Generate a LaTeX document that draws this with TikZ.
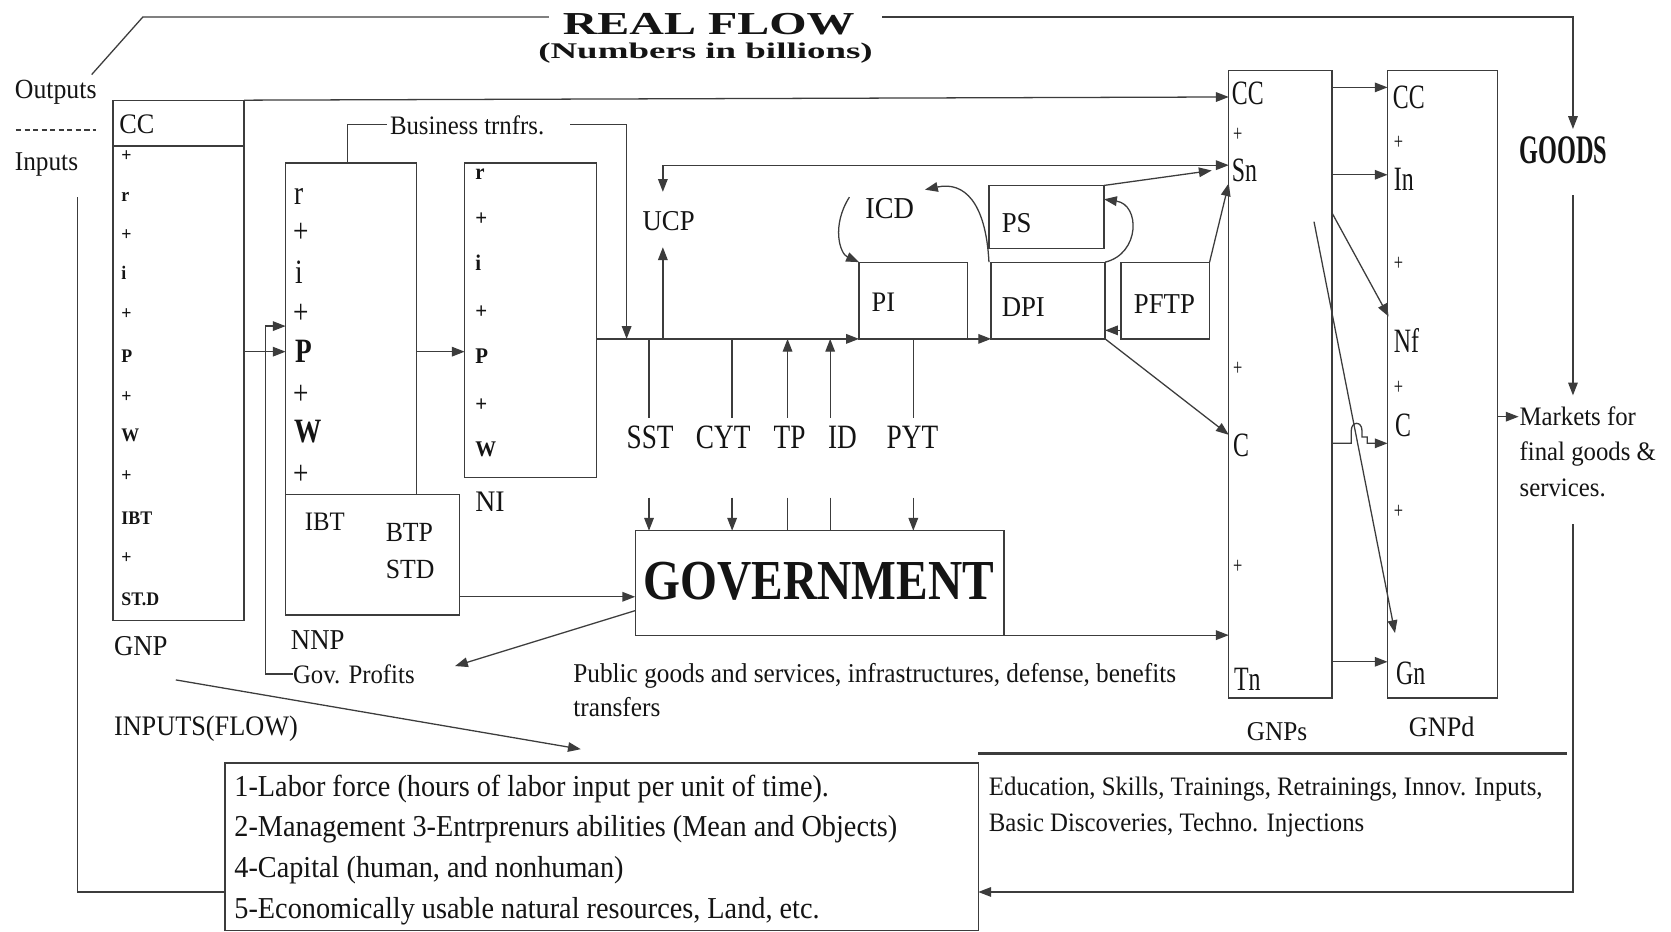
\documentclass[tikz,border=0pt]{standalone}
\usepackage{fontspec}
\usepackage{graphicx}
\setmainfont{Liberation Serif}[FakeStretch=0.93]
\newfontfamily\condfont{Liberation Serif}[FakeStretch=0.7]
\newfontfamily\semifont{Liberation Serif}[FakeStretch=0.8]
\newfontfamily\govfont{Liberation Serif}[FakeStretch=0.84]
\newfontfamily\goodsfont{Liberation Serif}[FakeStretch=0.6]
\newfontfamily\plainfont{Liberation Serif}
\usetikzlibrary{arrows.meta,calc}
\newcommand\myfs[1]{\fontsize{#1}{#1}\selectfont}
\definecolor{lc}{RGB}{60,60,60}
\definecolor{tc}{RGB}{20,20,20}
\begin{document}
\begin{tikzpicture}[x=1pt,y=-1pt,
  ln/.style={draw=lc, line width=1.2pt},
  arr/.style={ln, -{Triangle[length=12pt,width=9pt]}},
  box/.style={draw=lc, line width=1.2pt, anchor=north west, inner sep=0pt, outer sep=0pt},
  tx/.style={inner sep=0pt, outer sep=0pt, anchor=base west, text=tc},
  lab/.style={tx, font=\myfs{26}},
  sml/.style={tx, font=\myfs{18}\bfseries},
  nib/.style={tx, font=\myfs{21}\bfseries},
  big/.style={tx, font=\semifont\myfs{32}},
  cnd/.style={tx, font=\condfont\myfs{32}},
  pls/.style={tx, font=\condfont\myfs{22}},
  tax/.style={tx, font=\semifont\myfs{32}},
]
\useasboundingbox (0,0) rectangle (1568,874);
\fill[white] (0,0) rectangle (1568,874);

% ---------------- title ----------------
\node[inner sep=0pt, anchor=base, text=tc, font=\plainfont\bfseries\myfs{30}] (title) at (665,32) {\scalebox{1.5}[1]{REAL FLOW}};
\node[inner sep=0pt, anchor=base, text=tc, font=\plainfont\bfseries\myfs{21}] (subtitle) at (662,55) {\scalebox{1.65}[1]{(Numbers in billions)}};

% ---------------- boxes ----------------
\node[box, minimum width=123, minimum height=488] (gnp) at (106,94) {};
\node[box, minimum width=123, minimum height=311] (nnp) at (268,153) {};
\node[box, minimum width=163, minimum height=113] (ibt) at (268,464) {};
\node[box, minimum width=124, minimum height=295] (ni) at (436,153) {};
\node[box, minimum width=102, minimum height=72] (pi) at (806,246) {};
\node[box, minimum width=107, minimum height=72] (dpi) at (930,246) {};
\node[box, minimum width=108, minimum height=59] (ps) at (928,174) {};
\node[box, minimum width=83, minimum height=72] (pftp) at (1052,246) {};
\node[box, minimum width=346, minimum height=98] (gov) at (596,498) {};
\node[box, minimum width=97, minimum height=589] (gnps) at (1153,66) {};
\node[box, minimum width=103, minimum height=589] (gnpd) at (1302,66) {};
\node[box, minimum width=707, minimum height=157] (labor) at (211,716) {};
\draw[ln, line width=2.4pt] (labor.north west) -- (labor.north east);
\draw[ln, line width=2pt] (gnp.west |- 0,137) -- (gnp.east |- 0,137);

% ---------------- left texts ----------------
\node[lab] (outputs) at (14,92) {Outputs};
\draw[ln, dash pattern=on 5pt off 3pt] (15,122) -- (90,122);
\node[lab, font=\myfs{25.5}] (inputs) at (14,160) {Inputs};

% GNP box content
\node[lab, font=\myfs{26.5}] (gnpCC) at (112,125) {CC};
\foreach \t/\y [count=\i] in {+/152, r/189, +/226, i/262, +/300, P/340, +/378, W/414, +/452, IBT/492, +/529, ST.D/568}
  \node[sml] (gnpi\i) at (114,\y) {\t};
\node[lab, font=\myfs{27}] (gnplab) at (107,615) {GNP};

% NNP box content
\node[big] (nnpr) at (276,192) {r};
\node[big] (nnpp1) at (275,228) {+};
\node[big] (nnpi) at (277,266) {i};
\node[big] (nnpp2) at (275,304) {+};
\node[big, font=\semifont\bfseries\myfs{32}] (nnpP) at (277,340) {P};
\node[big] (nnpp3) at (275,380) {+};
\node[big, font=\semifont\bfseries\myfs{32}] (nnpW) at (276,415) {W};
\node[big] (nnpp4) at (275,455) {+};
\node[lab, font=\myfs{25}] (ibtt) at (286,498) {IBT};
\node[lab] (btp) at (362,508) {BTP};
\node[lab] (std) at (362,543) {STD};
\node[lab, font=\myfs{27}] (nnplab) at (273,609) {NNP};
\node[lab, font=\myfs{25}] (govprof) at (275,641) {Gov. Profits};

% NI box content
\foreach \t/\y [count=\i] in {r/168, +/212, i/254, +/299, P/341, +/386, W/428}
  \node[nib] (nii\i) at (446,\y) {\t};
\node[lab, font=\myfs{28}] (nilab) at (446,480) {NI};

\node[lab, font=\myfs{25}] (bus) at (366,126) {Business trnfrs.};
\node[lab, font=\myfs{27}] (ucp) at (603,216) {UCP};
\node[lab, font=\myfs{28.5}] (icd) at (812,205) {ICD};
\node[lab, font=\myfs{26.5}] (pit) at (818,292) {PI};
\node[lab, font=\myfs{27}] (dpit) at (940,297) {DPI};
\node[lab, font=\myfs{27}] (pst) at (940,218) {PS};
\node[lab, font=\myfs{27}] (pftpt) at (1064,294) {PFTP};

% tax labels
\node[tax] (sst) at (588,421) {SST};
\node[tax] (cyt) at (653,421) {CYT};
\node[tax] (tp) at (726,421) {TP};
\node[tax] (id) at (777,421) {ID};
\node[tax] (pyt) at (832,421) {PYT};

\node[tx, font=\govfont\bfseries\myfs{53}] (govt) at (604,563) {GOVERNMENT};
\node[lab, font=\myfs{25.5}] (pub1) at (538,640) {Public goods and services, infrastructures, defense, benefits};
\node[lab, font=\myfs{25.5}] (pub2) at (538,672) {transfers};

% GNPs content
\node[cnd] (sCC) at (1156,98) {CC};
\node[pls] (sp1) at (1157,133) {+};
\node[cnd] (sSn) at (1156,170) {Sn};
\node[pls] (sp2) at (1157,352) {+};
\node[cnd] (sC) at (1157,428) {C};
\node[pls] (sp3) at (1157,538) {+};
\node[cnd] (sTn) at (1158,648) {Tn};
\node[lab, font=\myfs{25.5}] (gnpslab) at (1170,695) {GNPs};

% GNPd content
\node[cnd] (dCC) at (1307,102) {CC};
\node[pls] (dp1) at (1308,140) {+};
\node[cnd] (dIn) at (1308,179) {In};
\node[pls] (dp2) at (1308,254) {+};
\node[cnd] (dNf) at (1308,331) {Nf};
\node[pls] (dp3) at (1308,370) {+};
\node[cnd] (dC) at (1309,410) {C};
\node[pls] (dp4) at (1308,487) {+};
\node[cnd] (dGn) at (1310,642) {Gn};
\node[lab, font=\myfs{26.5}] (gnpdlab) at (1322,691) {GNPd};

% right side
\node[tx, font=\goodsfont\bfseries\myfs{38}] (goods) at (1426,153) {GOODS};
\node[lab, font=\myfs{25}] (mk1) at (1426,399) {Markets for};
\node[lab, font=\myfs{25}] (mk2) at (1426,432) {final goods \&};
\node[lab, font=\myfs{25}] (mk3) at (1426,466) {services.};

% bottom texts
\node[lab, font=\myfs{26.5}] (inflow) at (107,690) {INPUTS(FLOW)};
\node[lab, font=\myfs{28.5}] (lb1) at (220,747) {1-Labor force (hours of labor input per unit of time).};
\node[lab, font=\myfs{28.5}] (lb2) at (220,785) {2-Management 3-Entrprenurs abilities (Mean and Objects)};
\node[lab, font=\myfs{28.5}] (lb3) at (220,823) {4-Capital (human, and nonhuman)};
\node[lab, font=\myfs{28.5}] (lb4) at (220,862) {5-Economically usable natural resources, Land, etc.};
\node[lab, font=\myfs{25}] (ed1) at (928,746) {Education, Skills, Trainings, Retrainings, Innov. Inputs,};
\node[lab, font=\myfs{25}] (ed2) at (928,780) {Basic Discoveries, Techno. Injections};

% ---------------- connectors ----------------
% real flow frame
\draw[ln] (86,70) -- (134,16) -- (515,16);
\coordinate (goodsTop) at (1476,121);
\draw[arr] (828,16) -- (1476,16) -- (goodsTop);
\coordinate (gdA) at (1476,183);
\coordinate (mkTop) at (1476,371);
\draw[arr] (gdA) -- (mkTop);
\coordinate (mkB) at (1476,492);
\draw[arr] (mkB) -- (1476,837) -- (labor.east |- 0,837);
\draw[ln] (73,185) -- (73,837) -- (labor.west |- 0,837);
\draw[ln, line width=2pt] (labor.east |- 0,707) -- (1470,707);

% GNP top line to GNPs CC
\draw[arr] (gnp.north east) -- (gnps.west |- 0,91);
% GNP -> NNP
\draw[arr] (gnp.east |- 0,330) -- (nnp.west |- 0,330);
% Gov profits -> NNP
\draw[arr] (govprof.west) -| (249,306) -- (nnp.west |- 0,306);
% NNP -> NI
\draw[arr] (nnp.east |- 0,330) -- (ni.west |- 0,330);
% business transfers
\draw[ln] (nnp.north -| 326,0) -- (326,117) -- (363,117);
\coordinate (btEnd) at (588,318);
\draw[arr] (535,117) -- (588,117) -- (btEnd);
% main flow line
\draw[arr] (ni.east |- 0,318) -- (pi.south west);
% UCP
\draw[arr] (622,318) -- (622,232);
\draw[ln, {Triangle[length=12pt,width=9pt]}-{Triangle[length=12pt,width=9pt]}] (622,180) |- (gnps.west |- 0,155);
% PI -> DPI
\draw[arr] (pi.south east) -- (dpi.south west);
% PFTP -> DPI
\draw[arr] (pftp.west |- 0,310) -- (dpi.east |- 0,310);
% DPI -> C
\draw[arr] (dpi.south east) -- (gnps.west |- 0,408);
% PS -> Sn
\draw[arr] (ps.north east) -- (1137,160);
% PFTP -> Sn
\draw[arr] (pftp.north east) -- (gnps.west |- 0,172);
% DPI -> PS loop
\draw[arr] (dpi.north east) .. controls (1070,238) and (1070,192) .. (1036,187);
% DPI -> ICD
\draw[arr] (928,246) .. controls (925,190) and (905,170) .. (868,178);
% ICD -> PI
\draw[arr] (797,185) .. controls (780,212) and (788,238) .. (pi.north west);

% taxes
\draw[ln] (609,318) -- (609,392);  \draw[arr] (609,467) -- (gov.north -| 609,0);
\draw[ln] (687,318) -- (687,392);  \draw[arr] (687,467) -- (gov.north -| 687,0);
\draw[arr] (739,392) -- (739,318); \draw[ln] (739,467) -- (gov.north -| 739,0);
\draw[arr] (779,392) -- (779,318); \draw[ln] (779,467) -- (gov.north -| 779,0);
\draw[ln] (857,318) -- (857,392);  \draw[arr] (857,467) -- (gov.north -| 857,0);

% government links
\draw[arr] (ibt.east |- 0,560) -- (gov.west |- 0,560);
\draw[arr] (gov.west |- 0,573) -- (427,625);
\draw[arr] (gov.south east) -- (gnps.west |- 0,596);

% GNPs -> GNPd
\draw[arr] (gnps.east |- 0,82) -- (gnpd.west |- 0,82);
\draw[arr] (gnps.east |- 0,164) -- (gnpd.west |- 0,164);
\draw[arr] (gnps.east |- 0,200) -- (1303,297);
\draw[arr] (1233,208) -- (1309,594);
\draw[arr] (gnps.east |- 0,416) -- (1268,416) -- (1268,404) .. controls (1268,395) and (1278,395) .. (1278,404) -- (1278,410) -- (1283,410) -- (1283,416) -- (gnpd.west |- 0,416);
\draw[arr] (gnps.east |- 0,621) -- (gnpd.west |- 0,621);
% GNPd -> markets
\draw[arr] (gnpd.east |- 0,391) -- (1425,391);
% inputs flow line
\draw[arr] (165,638) -- (545,703);
\end{tikzpicture}
\end{document}
